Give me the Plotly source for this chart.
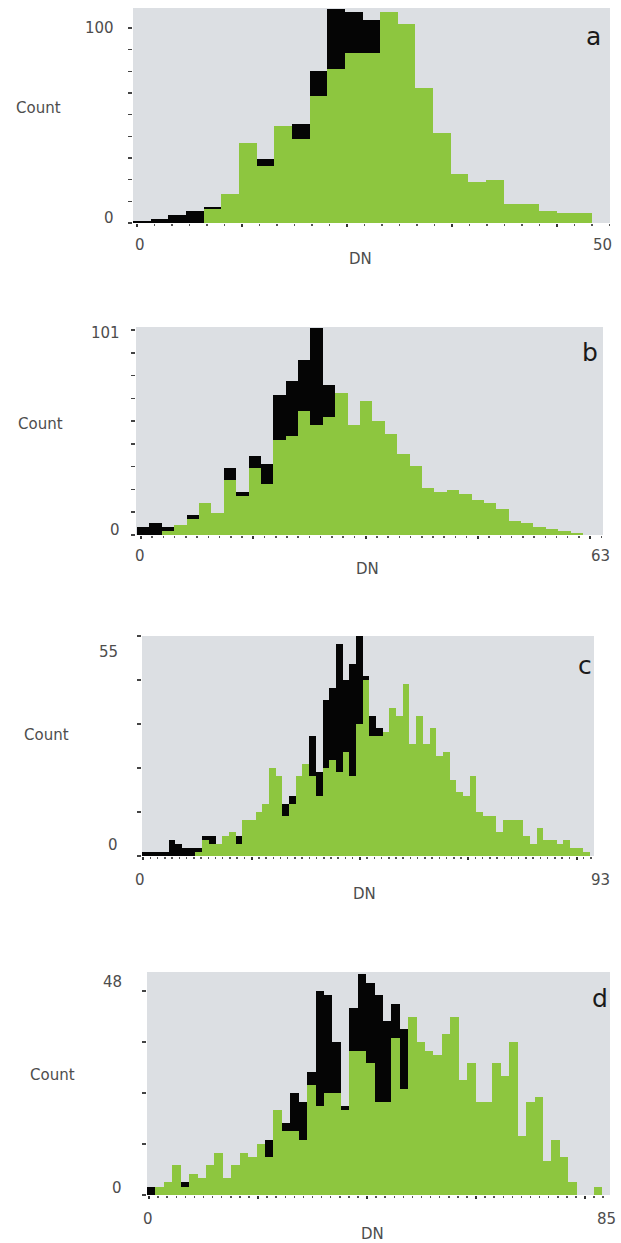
import plotly.graph_objects as go

W, H = 621, 1243

# ---------------- data (counts per bin) ----------------
a_green = [0, 0, 0, 0, 7, 15, 41, 29, 50, 43, 65, 79, 87, 87, 108, 102, 69, 46, 25, 21, 22, 10, 10, 6, 5, 5]
a_black = [1, 2, 4, 6, 8, 12, 30, 33, 45, 51, 78, 110, 108, 104, 80, 55, 30, 15, 8, 4, 2, 1, 0, 0, 0, 0]

b_green = [0, 0, 2, 5, 8, 16, 11, 27, 19, 33, 25, 47, 49, 61, 54, 58, 70, 54, 66, 56,
           50, 40, 34, 23, 21, 22, 20, 17, 16, 13, 7, 6, 4, 3, 2, 1]
b_black = [4, 6, 4, 2, 10, 12, 8, 33, 21, 39, 35, 69, 76, 86, 102, 74, 45, 35, 28, 20,
           14, 10, 7, 5, 3, 2, 1, 1, 0, 0, 0, 0, 0, 0, 0, 0]

c_green = [0, 0, 0, 0, 0, 0, 0, 0, 1, 4, 3, 3, 5, 6, 3, 9, 9, 11, 13, 22,
           20, 10, 13, 20, 23, 20, 15, 22, 24, 21, 26, 20, 33, 44, 30, 30, 31, 37, 35, 43,
           28, 35, 28, 32, 25, 26, 19, 16, 15, 20, 11, 10, 10, 6, 9, 9, 9, 5, 3, 7,
           4, 4, 3, 4, 2, 2, 1]
c_black = [1, 1, 1, 1, 4, 3, 2, 2, 2, 5, 5, 2, 3, 4, 5, 5, 6, 6, 8, 12,
           14, 13, 15, 16, 18, 30, 21, 39, 42, 53, 44, 48, 55, 45, 35, 32, 25, 22, 18, 15,
           12, 10, 8, 6, 5, 4, 3, 2, 2, 1, 1, 0, 0, 0, 0, 0, 0, 0, 0, 0,
           0, 0, 0, 0, 0, 0, 0]

d_green = [0, 2, 3, 7, 2, 5, 4, 7, 10, 4, 7, 10, 9, 12, 9, 20, 15, 15, 13, 26,
           21, 24, 24, 20, 34, 34, 31, 22, 22, 37, 25, 42, 36, 34, 33, 38, 42, 27, 31, 22,
           22, 31, 28, 36, 14, 22, 23, 8, 13, 9, 3, 0, 0, 2]
d_black = [2, 0, 0, 1, 3, 1, 1, 2, 3, 2, 3, 4, 5, 7, 13, 12, 17, 24, 22, 29,
           48, 47, 36, 21, 44, 52, 50, 47, 41, 45, 39, 20, 15, 10, 8, 6, 5, 4, 3, 2,
           2, 1, 1, 1, 0, 0, 0, 0, 0, 0, 0, 0, 0, 0]

letters = ["a", "b", "c", "d"]
y_max_labels = ["100", "101", "55", "48"]
x_max_labels = ["50", "63", "93", "85"]
series = [(a_green, a_black), (b_green, b_black), (c_green, c_black), (d_green, d_black)]

# ---------------- layout (pixel geometry of each panel) ----------------
specs = [
    dict(left=133, right=610, top=8, bottom=223, x0=133, xend=592, ppc=1.95, ytick=100 / 9,
         xt0=137, xmaj=105, nmin=6,
         ylab=(116, 28, 218), cnt=(38, 108), xlab=(140, 602, 245, 360, 259), let=(593, 36)),
    dict(left=136, right=603, top=327, bottom=535, x0=137, xend=583, ppc=2.03, ytick=101 / 9,
         xt0=141, xmaj=112.3, nmin=10,
         ylab=(122, 333, 530), cnt=(40, 424), xlab=(140, 600, 556, 367, 569), let=(590, 352)),
    dict(left=142, right=594, top=636, bottom=856, x0=142, xend=590, ppc=4.0, ytick=11,
         xt0=143.3, xmaj=108.3, nmin=15,
         ylab=(120, 652, 845), cnt=(46, 735), xlab=(140, 600, 880, 364, 894), let=(585, 665)),
    dict(left=147, right=610, top=972, bottom=1195, x0=147, xend=602, ppc=4.25, ytick=12,
         xt0=149, xmaj=109, nmin=12,
         ylab=(124, 982, 1188), cnt=(52, 1075), xlab=(148, 606, 1219, 372, 1234), let=(600, 998)),
]

GREEN = "#8dc63f"
BLACK = "#050505"
BG = "#dcdfe3"
TXT = "#4d4d4d"
FONT = "DejaVu Sans"
LABEL_SIZE = 15

fig = go.Figure()
annotations = []
layout_axes = {}


def px_x(p):
    return p / W


def px_y(p):
    return 1 - p / H


for k, (sp, (green, black)) in enumerate(zip(specs, series)):
    n = len(green)
    binw = (sp["xend"] - sp["x0"]) / n
    xs = [i + 0.5 for i in range(n)]
    sfx = "" if k == 0 else str(k + 1)
    xa, ya = "x" + sfx, "y" + sfx
    fig.add_trace(go.Bar(x=xs, y=black, width=1.0, marker=dict(color=BLACK, line=dict(width=0)),
                         xaxis=xa, yaxis=ya, showlegend=False, hoverinfo="skip"))
    fig.add_trace(go.Bar(x=xs, y=green, width=1.0, marker=dict(color=GREEN, line=dict(width=0)),
                         xaxis=xa, yaxis=ya, showlegend=False, hoverinfo="skip"))

    xr = [(sp["left"] - sp["x0"]) / binw, (sp["right"] - sp["x0"]) / binw]
    yr = [0, (sp["bottom"] - sp["top"]) / sp["ppc"]]
    t0 = (sp["xt0"] - sp["x0"]) / binw
    dt = sp["xmaj"] / binw
    layout_axes["xaxis" + sfx] = dict(
        domain=[px_x(sp["left"]), px_x(sp["right"])], range=xr, anchor=ya,
        showgrid=False, zeroline=False, showline=False, showticklabels=False,
        ticks="outside", ticklen=3, tickwidth=2, tickcolor="#333333",
        tickmode="linear", tick0=t0, dtick=dt,
        minor=dict(ticks="outside", ticklen=2, tickwidth=1.5, tickcolor="#555555",
                   tickmode="linear", tick0=t0, dtick=dt / sp["nmin"], showgrid=False),
        fixedrange=True,
    )
    layout_axes["yaxis" + sfx] = dict(
        domain=[px_y(sp["bottom"]), px_y(sp["top"])], range=yr, anchor=xa,
        showgrid=False, zeroline=False, showline=False, showticklabels=False,
        ticks="outside", ticklen=4, tickwidth=1.5, tickcolor="#444444",
        tickmode="linear", tick0=0, dtick=sp["ytick"], fixedrange=True,
    )
    # background of plotting area
    fig.add_shape(type="rect", xref="paper", yref="paper",
                  x0=px_x(sp["left"]), x1=px_x(sp["right"]),
                  y0=px_y(sp["bottom"]), y1=px_y(sp["top"]),
                  fillcolor=BG, line=dict(width=0), layer="below")

    def ann(text, x, y, xanchor="center", size=LABEL_SIZE, color=TXT):
        annotations.append(dict(text=text, x=px_x(x), y=px_y(y), xref="paper", yref="paper",
                                xanchor=xanchor, yanchor="middle", showarrow=False,
                                font=dict(family=FONT, size=size, color=color)))

    yl = sp["ylab"]
    ann(y_max_labels[k], yl[0], yl[1], "right")
    ann("0", yl[0], yl[2], "right")
    ann("Count", sp["cnt"][0], sp["cnt"][1])
    xl = sp["xlab"]
    ann("0", xl[0], xl[2])
    ann(x_max_labels[k], xl[1], xl[2])
    ann("DN", xl[3], xl[4])
    ann(letters[k], sp["let"][0], sp["let"][1], size=25, color="#1a1a1a")

fig.update_layout(
    width=W, height=H, margin=dict(l=0, r=0, t=0, b=0),
    paper_bgcolor="white", plot_bgcolor="rgba(0,0,0,0)",
    barmode="overlay", bargap=0, annotations=annotations, hovermode=False,
    font=dict(family=FONT, color=TXT), **layout_axes,
)

fig.write_html(
    "out.html",
    config={"displayModeBar": False, "staticPlot": True},
    post_script="document.body.style.margin='0';document.body.style.padding='0';"
                "document.body.style.overflow='hidden';"
                "document.documentElement.style.overflow='hidden';",
)
